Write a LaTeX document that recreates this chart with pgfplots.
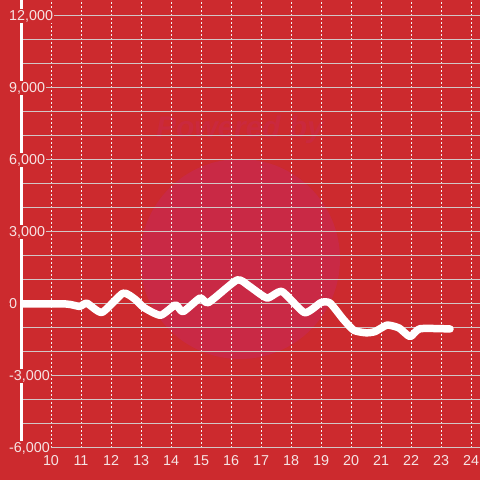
\documentclass[border=0pt]{standalone}
\usepackage{pgfplots}
\pgfplotsset{compat=1.18}
\usepackage{fontspec}
\setmainfont{Liberation Sans}
\definecolor{bgred}{HTML}{CC2A2E}
\definecolor{circ}{HTML}{C92945}
\definecolor{gridgrey}{HTML}{D2C6C6}
\definecolor{ticktxt}{HTML}{F6E4E4}
\begin{document}
\begin{tikzpicture}[x=1bp,y=1bp]
\fill[bgred] (0,0) rectangle (480,480);
\fill[circ] (240,221) circle (100);
\node[text=circ!70!bgred, font=\fontsize{30}{32}\selectfont\bfseries\itshape] at (240,350) {Powered by};
\begin{axis}[
  at={(21bp,32bp)}, anchor=south west,
  scale only axis, width=459bp, height=448bp,
  xmin=9, xmax=24.3, ymin=-6000, ymax=12666.7,
  axis x line*=bottom, axis y line*=left,
  x axis line style={draw=none},
  y axis line style={draw=white, line width=3bp, -},
  xtick={10,...,24},
  ytick={-6000,-3000,...,12000},
  minor y tick num=2,
  extra y ticks={0}, extra y tick labels={},
  extra y tick style={grid=major, major grid style={draw=white!92!gray, line width=3bp}},
  major tick length=0pt, minor tick length=0pt,
  xmajorgrids, ymajorgrids, yminorgrids,
  x grid style={draw=white!90!gray, dash pattern=on 2bp off 2bp, line width=0.9bp},
  y grid style={draw=gridgrey, line width=1bp},
  minor y grid style={draw=gridgrey, line width=1bp},
  /pgf/number format/assume math mode=true,
  /pgf/number format/1000 sep={,},
  tick label style={font=\fontsize{14.4}{16}\selectfont, text=ticktxt},
  xticklabel style={anchor=base, yshift=-18bp},
  yticklabel style={anchor=west, xshift=-13bp, fill=bgred, inner sep=1bp},
  scaled y ticks=false,
]
\addplot[white, line width=7.5bp, line join=round, line cap=round, smooth, tension=0.35] coordinates {
(9,0) (10.5,0) (10.95,-100) (11.2,30) (11.7,-350) (12.4,450) (12.8,200) (13.1,-150)
(13.65,-470) (14.15,-40) (14.4,-320) (14.97,250) (15.25,60) (16.2,1000) (16.6,750)
(17.2,250) (17.7,520) (18.45,-360) (19.0,60) (19.3,40) (19.75,-650) (20.1,-1100)
(20.5,-1200) (20.8,-1150) (21.2,-880) (21.6,-1000) (21.97,-1360) (22.3,-1030) (23.3,-1040)
};
\end{axis}
\pgfresetboundingbox
\useasboundingbox (0,0) rectangle (480,480);
\end{tikzpicture}
\end{document}
